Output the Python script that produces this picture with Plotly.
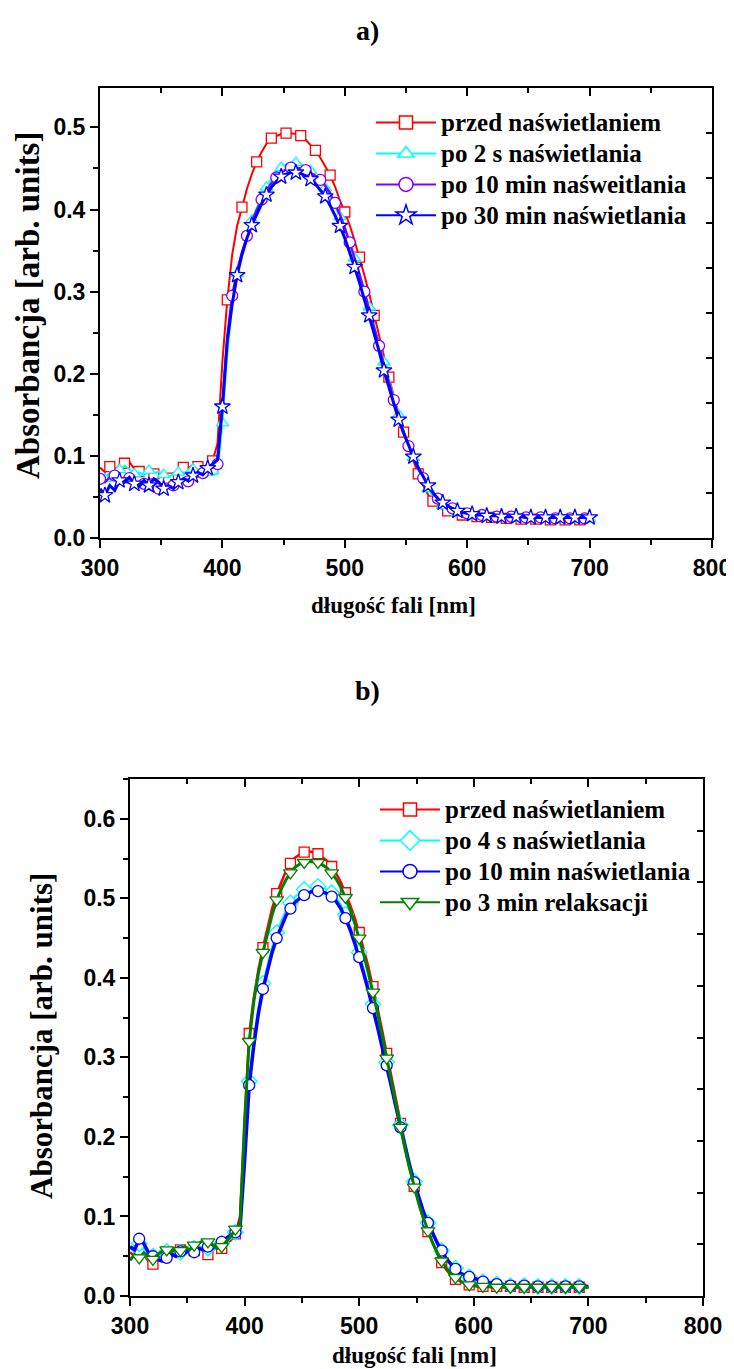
import plotly.graph_objects as go

# ---------------- data ----------------
wavelength = list(range(300, 701, 4))

# panel a)
a_przed = [0.086, 0.080, 0.087, 0.083, 0.089, 0.091, 0.093, 0.084, 0.081, 0.079,
           0.082, 0.078, 0.075, 0.077, 0.073, 0.079, 0.083, 0.086, 0.085, 0.089,
           0.087, 0.085, 0.090, 0.094, 0.115, 0.215, 0.290, 0.345, 0.380, 0.403,
           0.425, 0.443, 0.458, 0.470, 0.480, 0.487, 0.490, 0.492, 0.493, 0.493,
           0.492, 0.490, 0.485, 0.479, 0.472, 0.463, 0.453, 0.442, 0.428, 0.411,
           0.397, 0.381, 0.362, 0.342, 0.320, 0.297, 0.271, 0.246, 0.221, 0.196,
           0.173, 0.150, 0.129, 0.110, 0.093, 0.078, 0.064, 0.053, 0.045, 0.039,
           0.035, 0.033, 0.031, 0.029, 0.028, 0.027, 0.026, 0.026, 0.025, 0.025,
           0.025, 0.024, 0.024, 0.024, 0.024, 0.023, 0.023, 0.023, 0.023, 0.023,
           0.023, 0.022, 0.022, 0.022, 0.022, 0.022, 0.022, 0.022, 0.022, 0.022,
           0.022]
a_2s = [0.068, 0.072, 0.080, 0.074, 0.083, 0.088, 0.084, 0.078, 0.080, 0.076,
        0.082, 0.079, 0.081, 0.077, 0.074, 0.078, 0.080, 0.078, 0.082, 0.084,
        0.081, 0.086, 0.080, 0.077, 0.078, 0.140, 0.225, 0.285, 0.322, 0.348,
        0.369, 0.387, 0.402, 0.415, 0.427, 0.437, 0.445, 0.451, 0.455, 0.457,
        0.457, 0.455, 0.452, 0.447, 0.441, 0.434, 0.426, 0.416, 0.404, 0.391,
        0.376, 0.359, 0.341, 0.322, 0.302, 0.281, 0.259, 0.237, 0.214, 0.192,
        0.171, 0.150, 0.131, 0.114, 0.098, 0.084, 0.071, 0.060, 0.051, 0.044,
        0.039, 0.035, 0.032, 0.030, 0.029, 0.028, 0.027, 0.027, 0.026, 0.026,
        0.026, 0.025, 0.025, 0.025, 0.025, 0.024, 0.024, 0.024, 0.024, 0.024,
        0.024, 0.024, 0.023, 0.023, 0.023, 0.023, 0.023, 0.023, 0.023, 0.023,
        0.023]
a_10min = [0.072, 0.068, 0.074, 0.076, 0.071, 0.069, 0.073, 0.067, 0.064, 0.066,
           0.060, 0.057, 0.060, 0.066, 0.062, 0.064, 0.068, 0.071, 0.069, 0.073,
           0.075, 0.079, 0.083, 0.086, 0.090, 0.160, 0.245, 0.295, 0.325, 0.348,
           0.368, 0.385, 0.399, 0.412, 0.423, 0.432, 0.439, 0.445, 0.449, 0.451,
           0.451, 0.450, 0.448, 0.445, 0.441, 0.436, 0.429, 0.420, 0.408, 0.394,
           0.378, 0.360, 0.341, 0.321, 0.300, 0.279, 0.257, 0.234, 0.211, 0.189,
           0.168, 0.148, 0.129, 0.112, 0.097, 0.084, 0.073, 0.063, 0.055, 0.048,
           0.043, 0.039, 0.036, 0.033, 0.031, 0.030, 0.029, 0.028, 0.028, 0.027,
           0.027, 0.026, 0.026, 0.026, 0.026, 0.025, 0.025, 0.025, 0.025, 0.025,
           0.025, 0.025, 0.024, 0.024, 0.024, 0.024, 0.024, 0.024, 0.024, 0.024,
           0.024]
a_30min = [0.060, 0.052, 0.064, 0.058, 0.070, 0.068, 0.074, 0.066, 0.063, 0.070,
           0.064, 0.072, 0.068, 0.060, 0.064, 0.060, 0.068, 0.072, 0.070, 0.076,
           0.080, 0.077, 0.085, 0.090, 0.095, 0.160, 0.240, 0.285, 0.320, 0.345,
           0.365, 0.381, 0.395, 0.407, 0.418, 0.427, 0.434, 0.440, 0.443, 0.445,
           0.445, 0.444, 0.441, 0.437, 0.431, 0.424, 0.416, 0.405, 0.393, 0.380,
           0.365, 0.348, 0.330, 0.311, 0.291, 0.271, 0.250, 0.228, 0.204, 0.183,
           0.162, 0.144, 0.128, 0.113, 0.099, 0.086, 0.074, 0.064, 0.055, 0.048,
           0.043, 0.039, 0.036, 0.033, 0.031, 0.030, 0.029, 0.028, 0.028, 0.027,
           0.027, 0.027, 0.026, 0.026, 0.026, 0.026, 0.026, 0.025, 0.025, 0.025,
           0.025, 0.025, 0.025, 0.025, 0.025, 0.025, 0.025, 0.025, 0.025, 0.025,
           0.025]

# panel b)
b_przed = [0.055, 0.050, 0.058, 0.052, 0.044, 0.040, 0.047, 0.052, 0.055, 0.050,
           0.054, 0.058, 0.055, 0.060, 0.057, 0.062, 0.056, 0.052, 0.058, 0.062,
           0.060, 0.066, 0.070, 0.078, 0.100, 0.220, 0.330, 0.375, 0.410, 0.438,
           0.464, 0.487, 0.506, 0.521, 0.534, 0.544, 0.551, 0.555, 0.558, 0.559,
           0.558, 0.556, 0.552, 0.547, 0.540, 0.531, 0.520, 0.507, 0.492, 0.476,
           0.457, 0.436, 0.414, 0.389, 0.362, 0.334, 0.305, 0.276, 0.246, 0.217,
           0.189, 0.162, 0.138, 0.116, 0.097, 0.081, 0.066, 0.053, 0.042, 0.033,
           0.026, 0.021, 0.018, 0.016, 0.014, 0.013, 0.013, 0.012, 0.012, 0.012,
           0.012, 0.012, 0.012, 0.012, 0.011, 0.011, 0.011, 0.011, 0.011, 0.011,
           0.011, 0.011, 0.011, 0.011, 0.011, 0.011, 0.011, 0.011, 0.011, 0.011,
           0.011]
b_4s = [0.060, 0.055, 0.066, 0.058, 0.052, 0.050, 0.054, 0.050, 0.056, 0.053,
        0.057, 0.055, 0.059, 0.056, 0.060, 0.058, 0.062, 0.060, 0.064, 0.061,
        0.066, 0.068, 0.072, 0.080, 0.088, 0.180, 0.270, 0.320, 0.362, 0.393,
        0.418, 0.439, 0.457, 0.472, 0.484, 0.494, 0.502, 0.507, 0.511, 0.514,
        0.515, 0.515, 0.514, 0.511, 0.507, 0.501, 0.492, 0.480, 0.466, 0.450,
        0.432, 0.411, 0.389, 0.367, 0.343, 0.318, 0.294, 0.268, 0.242, 0.215,
        0.190, 0.166, 0.144, 0.124, 0.107, 0.092, 0.079, 0.067, 0.057, 0.048,
        0.041, 0.035, 0.030, 0.027, 0.024, 0.022, 0.020, 0.018, 0.017, 0.016,
        0.015, 0.014, 0.014, 0.013, 0.013, 0.013, 0.013, 0.012, 0.012, 0.012,
        0.012, 0.012, 0.012, 0.012, 0.012, 0.012, 0.012, 0.012, 0.012, 0.012,
        0.012]
b_10min = [0.062, 0.058, 0.072, 0.066, 0.055, 0.050, 0.046, 0.044, 0.048, 0.053,
           0.050, 0.056, 0.054, 0.058, 0.055, 0.060, 0.058, 0.062, 0.060, 0.064,
           0.068, 0.072, 0.076, 0.080, 0.085, 0.170, 0.265, 0.315, 0.355, 0.386,
           0.410, 0.432, 0.450, 0.465, 0.478, 0.487, 0.495, 0.500, 0.504, 0.507,
           0.509, 0.509, 0.508, 0.506, 0.502, 0.496, 0.487, 0.475, 0.461, 0.444,
           0.426, 0.405, 0.384, 0.362, 0.338, 0.313, 0.290, 0.264, 0.238, 0.212,
           0.187, 0.164, 0.143, 0.123, 0.106, 0.092, 0.079, 0.067, 0.057, 0.047,
           0.040, 0.034, 0.029, 0.026, 0.024, 0.022, 0.020, 0.018, 0.017, 0.016,
           0.015, 0.014, 0.014, 0.013, 0.013, 0.013, 0.013, 0.012, 0.012, 0.012,
           0.012, 0.012, 0.012, 0.012, 0.012, 0.012, 0.012, 0.012, 0.012, 0.012,
           0.012]
b_relaks = [0.045, 0.052, 0.048, 0.054, 0.050, 0.046, 0.052, 0.056, 0.058, 0.055,
            0.060, 0.057, 0.062, 0.058, 0.064, 0.066, 0.070, 0.068, 0.064, 0.060,
            0.062, 0.068, 0.075, 0.084, 0.090, 0.220, 0.320, 0.370, 0.405, 0.432,
            0.456, 0.479, 0.498, 0.512, 0.523, 0.532, 0.539, 0.543, 0.545, 0.546,
            0.546, 0.545, 0.542, 0.538, 0.532, 0.524, 0.514, 0.501, 0.486, 0.469,
            0.450, 0.429, 0.406, 0.382, 0.356, 0.328, 0.299, 0.270, 0.241, 0.212,
            0.185, 0.160, 0.137, 0.116, 0.098, 0.082, 0.067, 0.055, 0.044, 0.035,
            0.028, 0.023, 0.019, 0.016, 0.014, 0.013, 0.012, 0.012, 0.012, 0.011,
            0.011, 0.011, 0.011, 0.011, 0.011, 0.011, 0.011, 0.011, 0.011, 0.011,
            0.011, 0.011, 0.011, 0.011, 0.011, 0.011, 0.011, 0.011, 0.011, 0.011,
            0.011]

a_names = ["przed naświetlaniem", "po 2 s naświetlania",
           "po 10 min naśweitlania", "po 30 min naświetlania"]
b_names = ["przed naświetlaniem", "po 4 s naświetlania",
           "po 10 min naświetlania", "po 3 min relaksacji"]

x_ticks = [300, 400, 500, 600, 700, 800]
a_y_ticks = [0.0, 0.1, 0.2, 0.3, 0.4, 0.5]
b_y_ticks = [0.0, 0.1, 0.2, 0.3, 0.4, 0.5, 0.6]

# ---------------- figure ----------------
OFF = 8                       # page body margin
W, H = 734 - OFF, 1369 - OFF
fig = go.Figure()

SERIF = "Liberation Serif"
SANS = "Liberation Sans"


def PX(p):
    """page pixel x -> paper"""
    return (p - OFF) / W


def PY(p):
    """page pixel y -> paper"""
    return 1 - (p - OFF) / H


def add_series(x, y, name, color, symbol, msize, lw, offset, xa, ya, legend, last=None):
    fig.add_trace(go.Scatter(x=x, y=y, mode="lines", line=dict(color=color, width=lw),
                             showlegend=False, hoverinfo="skip", xaxis=xa, yaxis=ya))
    fig.add_trace(go.Scatter(x=x[offset:last:3], y=y[offset:last:3], mode="markers",
                             marker=dict(symbol=symbol, size=msize, color="white",
                                         line=dict(color=color, width=1.3)),
                             showlegend=False, hoverinfo="skip", xaxis=xa, yaxis=ya))
    fig.add_trace(go.Scatter(x=[None], y=[None], mode="lines+markers",
                             name='<span style="font-size:25px">' + name + "</span>",
                             line=dict(color=color, width=2),
                             marker=dict(symbol=symbol, size=msize + 3, color="white",
                                         line=dict(color=color, width=1.5)),
                             xaxis=xa, yaxis=ya, legend=legend))


a_specs = [(a_przed, "#FF0000", "square", 10, 2.0, 2),
           (a_2s, "#00FFFF", "triangle-up", 11, 2.0, 1),
           (a_10min, "#8000FF", "circle", 11, 2.5, 0),
           (a_30min, "#0000FF", "star", 12, 3.0, 1)]
for (vals, col, sym, ms, lw, off), nm in zip(a_specs, a_names):
    add_series(wavelength, vals, nm, col, sym, ms, lw, off, "x", "y", "legend")

b_specs = [(b_przed, "#FF0000", "square", 10, 2.5, 2),
           (b_4s, "#00FFFF", "diamond", 12, 2.0, 2),
           (b_10min, "#0000FF", "circle", 11, 3.5, 2),
           (b_relaks, "#008000", "triangle-down", 12, 3.0, 2)]
for (vals, col, sym, ms, lw, off), nm in zip(b_specs, b_names):
    add_series(wavelength, vals, nm, col, sym, ms, lw, off, "x2", "y2", "legend2", last=100)

A_X = [PX(100), PX(712)]
A_Y = [PY(538), PY(88)]
B_X = [PX(130), PX(703)]
B_Y = [PY(1296), PY(779)]

tickfont = dict(family=SANS, size=23, color="black", weight="bold")

common_x = dict(range=[300, 800], showgrid=False, zeroline=False, showline=True,
                linecolor="black", linewidth=2, mirror=True, ticks="outside",
                ticklen=8, tickwidth=2, tickcolor="black", tickvals=x_ticks,
                tickfont=tickfont, automargin=False,
                minor=dict(dtick=50, tick0=300, ticks="outside", ticklen=5,
                           tickwidth=2, tickcolor="black"))
common_y = dict(showgrid=False, zeroline=False, showline=True, linecolor="black",
                linewidth=2, mirror=True, ticks="outside", ticklen=8, tickwidth=2,
                tickcolor="black", tickfont=tickfont, tickformat=".1f", automargin=False,
                minor=dict(dtick=0.05, tick0=0, ticks="outside", ticklen=5,
                           tickwidth=2, tickcolor="black"))

top_x = dict(range=[300, 800], showgrid=False, zeroline=False, showline=False,
             side="top", ticks="inside", ticklen=8, tickwidth=2, tickcolor="black",
             tickvals=x_ticks, showticklabels=False, automargin=False,
             minor=dict(dtick=50, tick0=300, ticks="inside", ticklen=5,
                        tickwidth=2, tickcolor="black"))
right_y = dict(range=[0, 1], showgrid=False, zeroline=False, showline=False,
               side="right", ticks="inside", ticklen=6, tickwidth=2, tickcolor="black",
               tickvals=[0.1, 0.2, 0.3, 0.4, 0.5, 0.6, 0.7, 0.8, 0.9],
               showticklabels=False, automargin=False)

legfont = dict(family=SERIF, size=21.5, color="black", weight="bold")

fig.update_layout(
    template="none",
    width=W, height=H, margin=dict(l=0, r=0, t=0, b=0, autoexpand=False),
    paper_bgcolor="white", plot_bgcolor="white",
    xaxis=dict(domain=A_X, anchor="y", **common_x),
    yaxis=dict(domain=A_Y, anchor="x", range=[0, 0.548], tickvals=a_y_ticks, **common_y),
    xaxis2=dict(domain=B_X, anchor="y2", **common_x),
    yaxis2=dict(domain=B_Y, anchor="x2", range=[0, 0.65], tickvals=b_y_ticks, **common_y),
    xaxis3=dict(overlaying="x", anchor="y", **top_x),
    yaxis3=dict(overlaying="y", anchor="x", **right_y),
    xaxis4=dict(overlaying="x2", anchor="y2", **top_x),
    yaxis4=dict(overlaying="y2", anchor="x2", **right_y),
    legend=dict(x=PX(371), y=PY(102), xanchor="left", yanchor="top",
                bgcolor="rgba(0,0,0,0)", borderwidth=0, tracegroupgap=0,
                itemwidth=60, font=legfont),
    legend2=dict(x=PX(375), y=PY(789), xanchor="left", yanchor="top",
                 bgcolor="rgba(0,0,0,0)", borderwidth=0, tracegroupgap=0,
                 itemwidth=60, font=legfont),
)

fig.add_trace(go.Scatter(x=[None], y=[None], xaxis="x3", yaxis="y3", showlegend=False))
fig.add_trace(go.Scatter(x=[None], y=[None], xaxis="x4", yaxis="y4", showlegend=False))

xtitlefont = dict(family=SERIF, size=23, color="black", weight="bold")
panelfont = dict(family=SERIF, size=28, color="black", weight="bold")
annots = [
    dict(text="a)", x=PX(367), y=PY(30), font=panelfont),
    dict(text="b)", x=PX(367), y=PY(690), font=panelfont),
    dict(text="długość fali [nm]", x=PX(393), y=PY(605), font=xtitlefont),
    dict(text="długość fali [nm]", x=PX(415), y=PY(1355), font=xtitlefont),
    dict(text="Absorbancja [arb. units]", x=PX(28), y=PY(306), textangle=-90,
         font=dict(family=SERIF, size=33, color="black", weight="bold")),
    dict(text="Absorbancja [arb. units]", x=PX(41), y=PY(1036), textangle=-90,
         font=dict(family=SERIF, size=31, color="black", weight="bold")),
]
for a in annots:
    fig.add_annotation(xref="paper", yref="paper", showarrow=False,
                       xanchor="center", yanchor="middle", **a)

fig.write_html("out.html")
